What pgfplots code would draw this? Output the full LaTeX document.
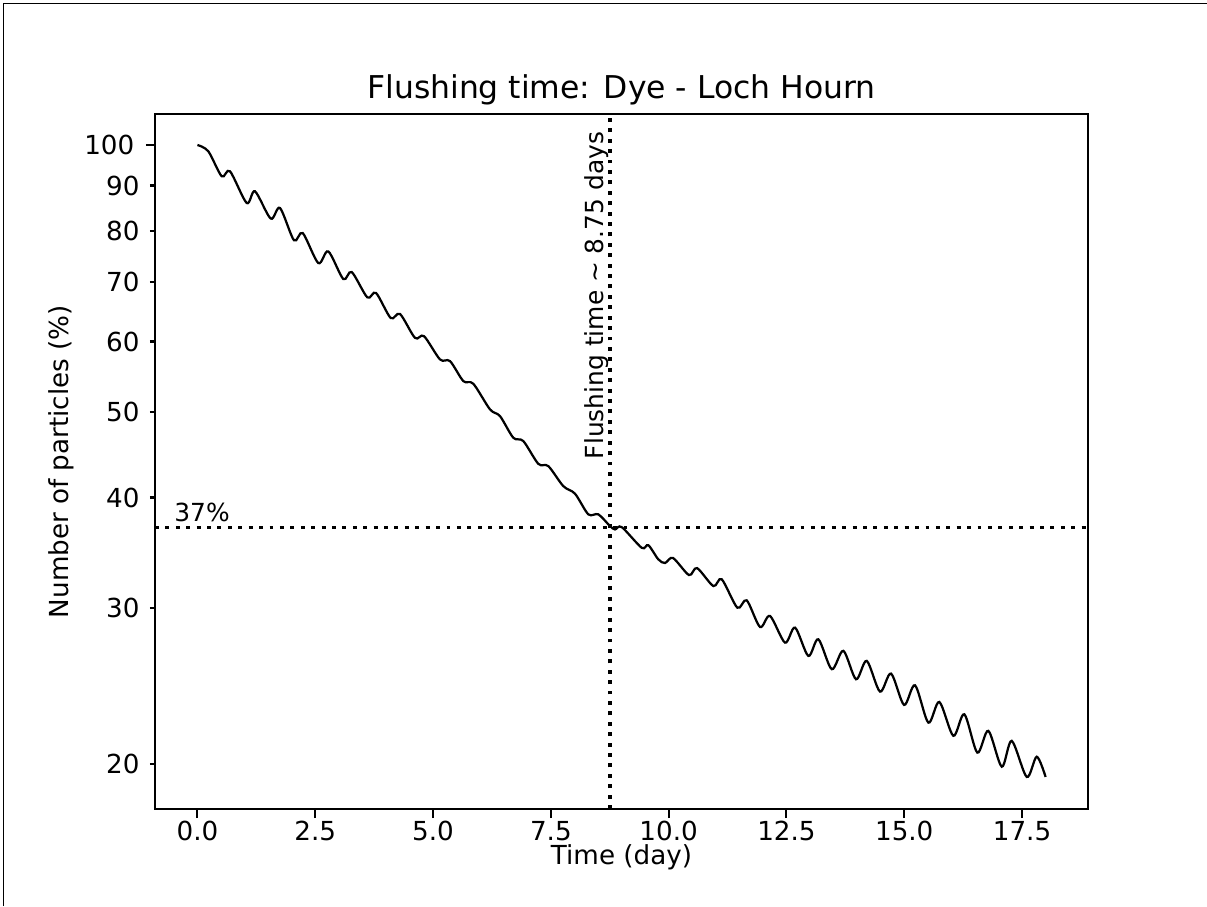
\documentclass[border=0pt]{standalone}
\usepackage{fontspec}
\setmainfont{DejaVu Sans}
\usepackage{pgfplots}
\pgfplotsset{compat=1.18}
\begin{document}
\begin{tikzpicture}[x=1pt,y=1pt]
\useasboundingbox (0,0) rectangle (460.8,345.9);
\draw[line width=0.4pt] (1.2,0) -- (1.2,344.7) -- (460.8,344.7);
\begin{axis}[at={(59.18pt,37.03pt)}, anchor=south west, scale only axis,
  width=356.2pt, height=265.35pt,
  xmin=-0.9, xmax=18.9, ymode=log, ymin=17.8, ymax=108.4,
  xtick={0,2.5,5,7.5,10,12.5,15,17.5},
  xticklabels={0.0,2.5,5.0,7.5,10.0,12.5,15.0,17.5},
  ytick={100}, yticklabels={100},
  extra y ticks={20,30,40,50,60,70,80,90},
  extra y tick labels={20,30,40,50,60,70,80,90},
  extra y tick style={major tick length=2pt, yticklabel style={xshift=0.5pt}},
  minor y tick num=0, minor x tick num=0,
  tick align=outside, major tick length=3.5pt,
  xtick pos=bottom, ytick pos=left,
  tick style={line width=0.8pt, black},
  axis line style={line width=0.8pt},
  /pgf/number format/assume math mode=true,
  tick label style={font=\fontsize{10}{12}\selectfont},
  xticklabel style={anchor=base, inner sep=0pt, yshift=-8.5pt},
  yticklabel style={anchor=east, inner sep=0pt, xshift=-4.2pt},
  label style={font=\fontsize{10}{12}\selectfont},
  xlabel style={at={(0.5,0)}, anchor=base, inner sep=0pt, yshift=-21.2pt},
  ylabel style={at={(-0.0922,0.5)}, anchor=base, inner sep=0pt},
  xlabel={Time (day)}, ylabel={Number of particles (\%)},
  title={Flushing time: Dye - Loch Hourn},
  title style={font=\fontsize{12}{14}\selectfont, at={(0.5,1)}, anchor=base, yshift=0pt},
]
\addplot[black, line width=1.5pt, dash pattern=on 1.5pt off 2.475pt, forget plot]
  coordinates {(-0.9,37) (18.9,37)};
\addplot[black, line width=1.5pt, dash pattern=on 1.5pt off 2.475pt, forget plot]
  coordinates {(8.75,17.8) (8.75,108.4)};
\addplot[black, line width=0.85pt, smooth, tension=0.5] coordinates {
(0,100) (0.231,98.38) (0.516,92.19) (0.692,93.39) (1.046,86.01) (1.222,88.66)
(1.556,82.59) (1.753,84.89) (2.050,78.06) (2.235,79.56) (2.566,73.58) (2.778,75.85)
(3.096,70.58) (3.275,71.88) (3.606,67.30) (3.790,68.08) (4.102,63.79) (4.300,64.45)
(4.618,60.57) (4.809,60.84) (5.149,57.27) (5.361,57.02) (5.643,54.14) (5.855,53.76)
(6.210,50.29) (6.422,49.42) (6.704,46.72) (6.916,46.32) (7.235,43.66) (7.447,43.40)
(7.765,41.20) (8.014,40.39) (8.296,38.29) (8.508,38.29) (8.756,37.14) (8.862,36.82)
(9.005,37.04) (9.429,35.10) (9.569,35.34) (9.781,34.06) (9.924,33.74) (10.093,34.18)
(10.433,32.70) (10.603,33.30) (10.949,31.78) (11.127,32.34) (11.458,30.04) (11.657,30.62)
(11.940,28.57) (12.152,29.40) (12.470,27.43) (12.683,28.52) (12.965,26.50) (13.177,27.67)
(13.462,25.60) (13.708,26.85) (13.977,24.94) (14.204,26.16) (14.486,24.15) (14.720,25.31)
(14.996,23.33) (15.229,24.55) (15.512,22.28) (15.745,23.51) (16.042,21.53) (16.275,22.77)
(16.551,20.61) (16.785,21.81) (17.070,19.87) (17.281,21.25) (17.600,19.35) (17.812,20.39)
(18.0,19.35)};
\node[anchor=base west, inner sep=0pt, font=\fontsize{9.5}{11}\selectfont] at (axis cs:-0.5,37.6) {37\%};
\node[rotate=90, anchor=base west, inner sep=0pt, font=\fontsize{9.5}{11}\selectfont] at (axis cs:8.61,44.15) {Flushing time \textasciitilde\ 8.75 days};
\end{axis}
\end{tikzpicture}
\end{document}
